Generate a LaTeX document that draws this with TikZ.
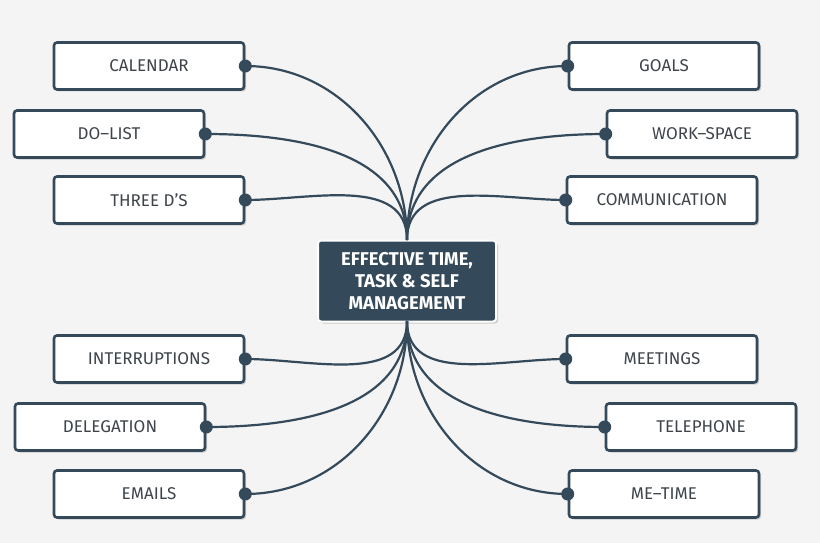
\documentclass[tikz,border=0pt]{standalone}
\usepackage{fontspec}
\setmainfont{Fira Sans}
\usetikzlibrary{shadows}
\definecolor{slate}{HTML}{34495A}
\definecolor{bggray}{HTML}{F4F4F4}
\definecolor{txtgray}{HTML}{3E444A}
\tikzset{
  item/.style={draw=slate, line width=2.6pt, fill=white, rounded corners=3pt,
    minimum width=190pt, minimum height=47pt, text=txtgray,
    font=\fontsize{17}{19}\selectfont,
    drop shadow={shadow xshift=2pt, shadow yshift=-2pt, fill=black!35}},
  hub/.style={draw=white, line width=2pt, fill=slate, rounded corners=3pt,
    minimum width=178pt, minimum height=81pt, text=white, align=center,
    font=\bfseries\fontsize{18.5}{22}\selectfont,
    drop shadow={shadow xshift=2pt, shadow yshift=-2pt, fill=black!35}},
  link/.style={draw=slate, line width=2.2pt},
  dot/.style={circle, fill=slate, inner sep=0pt, minimum size=13pt}
}
\begin{document}
\begin{tikzpicture}[x=1pt,y=-1pt]
	\fill[bggray] (0,0) rectangle (820,543);
	\useasboundingbox (0,0) rectangle (820,543);

	\node[hub] (hub) at (407,281) {EFFECTIVE TIME,\\TASK \& SELF\\MANAGEMENT};
	\coordinate (up) at (407,240);
	\coordinate (down) at (407,321);

	% left side
	\node[item] (cal) at (149,66) {CALENDAR};
	\node[item] (todo) at (109,134) {DO–LIST};
	\node[item] (three) at (149,200) {THREE D’S};
	\node[item] (intr) at (149,359) {INTERRUPTIONS};
	\node[item] (deleg) at (110,427) {DELEGATION};
	\node[item] (mail) at (149,494) {EMAILS};
	% right side
	\node[item] (goals) at (664,66) {GOALS};
	\node[item] (work) at (702,134) {WORK–SPACE};
	\node[item] (comm) at (662,200) {COMMUNICATION};
	\node[item] (meet) at (662,359) {MEETINGS};
	\node[item] (tel) at (701,427) {TELEPHONE};
	\node[item] (me) at (664,494) {ME–TIME};

	\foreach \n in {cal,todo,three}
		\draw[link] (up) to[out=90,in=0] (\n.east);
	\foreach \n in {intr,deleg,mail}
		\draw[link] (down) to[out=-90,in=0] (\n.east);
	\foreach \n in {goals,work,comm}
		\draw[link] (up) to[out=90,in=180] (\n.west);
	\foreach \n in {meet,tel,me}
		\draw[link] (down) to[out=-90,in=180] (\n.west);

	\foreach \n in {cal,todo,three,intr,deleg,mail}
		\node[dot] at (\n.east) {};
	\foreach \n in {goals,work,comm,meet,tel,me}
		\node[dot] at (\n.west) {};
\end{tikzpicture}
\end{document}
